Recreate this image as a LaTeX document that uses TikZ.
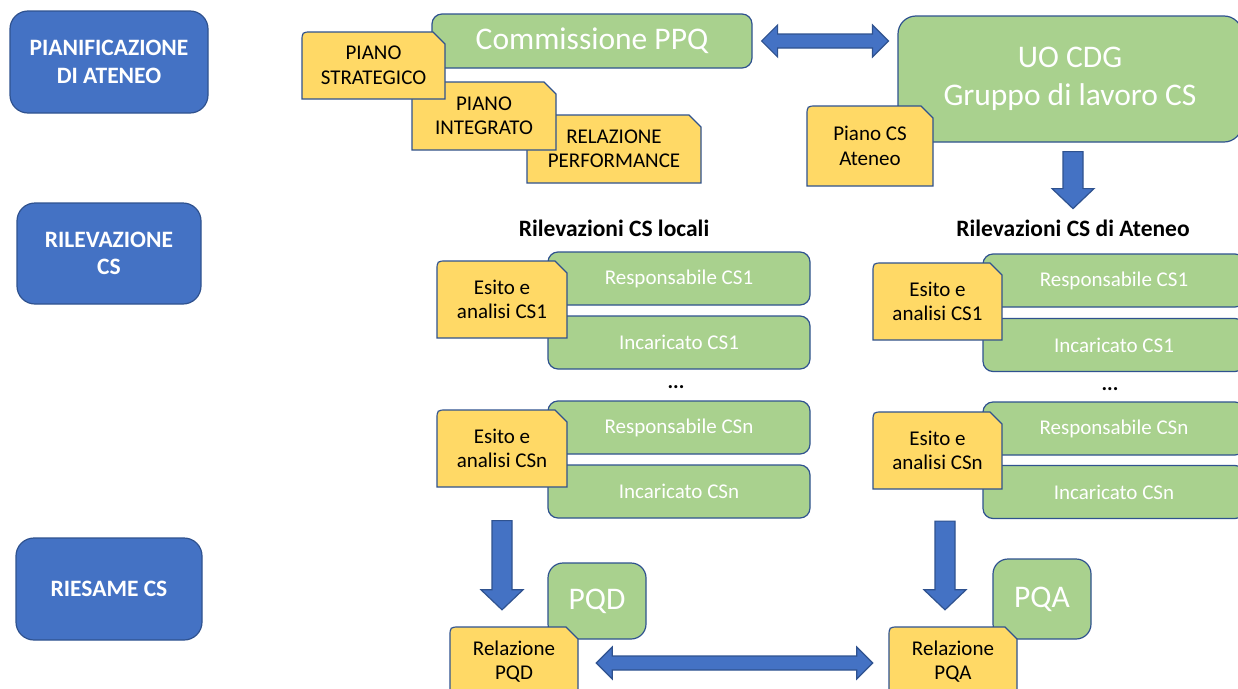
\documentclass[tikz,border=0pt]{standalone}
\usepackage{fontspec}
\setmainfont{Carlito}
\usetikzlibrary{calc}

\definecolor{phaseblue}{HTML}{4472C4}
\definecolor{edgeblue}{HTML}{2F528F}
\definecolor{actorgreen}{HTML}{A9D18E}
\definecolor{docyellow}{HTML}{FFD966}

\tikzset{
  phase/.style={draw=edgeblue, fill=phaseblue, line width=1.2pt, rounded corners=18pt, text=white, align=center, inner sep=0pt, font=\fontsize{23.5}{27.5}\selectfont\bfseries},
  actor/.style={draw=edgeblue, fill=actorgreen, line width=1.2pt, rounded corners=10pt, text=white, align=center, inner sep=0pt, font=\fontsize{21}{25}\selectfont},
  bigactor/.style={actor, font=\fontsize{31.5}{38}\selectfont},
  docshape/.style={draw=edgeblue, fill=docyellow, line width=1.2pt},
  doctext/.style={align=center, inner sep=0pt, font=\fontsize{21}{24.5}\selectfont},
  header/.style={font=\fontsize{23.5}{28}\selectfont\bfseries},
  dots/.style={font=\fontsize{21}{25}\selectfont\bfseries},
  fatdown/.style={draw=edgeblue, fill=phaseblue, line width=1.2pt,
    to path={let \p1=(\tikztostart), \p2=(\tikztotarget) in
      (\x1-10pt,\y1) -- (\x1+10pt,\y1) -- (\x1+10pt,\y2+20pt) -- (\x1+21pt,\y2+20pt)
      -- (\x1,\y2) -- (\x1-21pt,\y2+20pt) -- (\x1-10pt,\y2+20pt) -- cycle}},
  fatboth/.style={draw=edgeblue, fill=phaseblue, line width=1.2pt,
    to path={let \p1=(\tikztostart), \p2=(\tikztotarget) in
      (\x1,\y1) -- (\x1+16pt,\y1+16pt) -- (\x1+16pt,\y1+7pt) -- (\x2-16pt,\y1+7pt)
      -- (\x2-16pt,\y1+16pt) -- (\x2,\y1) -- (\x2-16pt,\y1-16pt) -- (\x2-16pt,\y1-7pt)
      -- (\x1+16pt,\y1-7pt) -- (\x1+16pt,\y1-16pt) -- cycle}}
}

% document sheet: round top left, cut top right
\newcommand{\docnode}[6]{%
  \filldraw[docshape] (#2,#5) -- (#2,#3+10) .. controls (#2,#3) .. (#2+10,#3)
    -- (#4-12,#3) -- (#4,#3+12) -- (#4,#5) -- cycle;
  \node[doctext, minimum width={(#4-#2)*1pt}, minimum height={(#5-#3)*1pt}]
    (#1) at ({(#2+#4)/2},{(#3+#5)/2}) {#6};
}

\begin{document}
\begin{tikzpicture}[x=1pt,y=-1pt]
\useasboundingbox (0,0) rectangle (1238,688);
\clip (0,0) rectangle (1238,688);
\fill[white] (0,0) rectangle (1238,688);

% phases
\node[phase, minimum width=198pt, minimum height=102pt] (plan) at (109,62) {PIANIFICAZIONE\\DI ATENEO};
\node[phase, minimum width=184pt, minimum height=101pt] (rilev) at (109,253.5) {RILEVAZIONE\\CS};
\node[phase, minimum width=186pt, minimum height=102pt] (riesame) at (109,589) {RIESAME CS};

% planning
\node[bigactor, minimum width=320pt, minimum height=54pt] (ppq) at (592,41) {Commissione PPQ};
\docnode{perf}{527}{115}{701}{183}{RELAZIONE\\PERFORMANCE}
\docnode{integ}{412}{82}{556}{150}{PIANO\\INTEGRATO}
\docnode{strat}{302}{32}{445}{99}{PIANO\\STRATEGICO}
\node[bigactor, rounded corners=18pt, minimum width=344pt, minimum height=126pt] (cdg) at (1070,79) {UO CDG\\Gruppo di lavoro CS};
\docnode{pianocs}{807}{106}{933}{186}{Piano CS\\Ateneo}
\draw[fatboth] ($(ppq.east)+(9,0)$) to ($(ppq.east -| cdg.west)+(-9,0)$);

% surveys
\node[header] (hdloc) at (614,228) {Rilevazioni CS locali};
\node[header] (hdate) at (1073,228) {Rilevazioni CS di Ateneo};
\draw[fatdown] ($(cdg.south -| hdate.north)+(0,9)$) to ($(cdg.south -| hdate.north)+(0,66)$);

\node[actor, minimum width=262pt, minimum height=53pt] (resp1) at (679,278.5) {Responsabile CS1};
\node[actor, minimum width=262pt, minimum height=53pt] (inc1) at (679,342.5) {Incaricato CS1};
\node[actor, minimum width=262pt, minimum height=53pt] (respn) at (679,427.5) {Responsabile CSn};
\node[actor, minimum width=262pt, minimum height=53pt] (incn) at (679,491.5) {Incaricato CSn};
\docnode{es1}{437}{261}{567}{338}{Esito e\\analisi CS1}
\docnode{esn}{437}{410}{567}{487}{Esito e\\analisi CSn}
\node[dots] (dotsloc) at (676,387) {...};

\node[actor, minimum width=262pt, minimum height=53pt] (rresp1) at (1114,280.5) {Responsabile CS1};
\node[actor, minimum width=262pt, minimum height=53pt] (rinc1) at (1114,345) {Incaricato CS1};
\node[actor, minimum width=262pt, minimum height=53pt] (rrespn) at (1114,428.5) {Responsabile CSn};
\node[actor, minimum width=262pt, minimum height=53pt] (rincn) at (1114,492) {Incaricato CSn};
\docnode{res1}{873}{263}{1002}{340}{Esito e\\analisi CS1}
\docnode{resn}{873}{412}{1002}{489}{Esito e\\analisi CSn}
\node[dots] (dotsate) at (1110,389) {...};

% review
\node[bigactor, rounded corners=15pt, minimum width=98pt, minimum height=76pt] (pqd) at (597,601) {PQD};
\docnode{relpqd}{450}{627}{578}{696}{Relazione\\PQD}
\node[bigactor, rounded corners=15pt, minimum width=98pt, minimum height=80pt] (pqa) at (1042,599) {PQA};
\docnode{relpqa}{889}{627}{1017}{696}{Relazione\\PQA}

\draw[fatdown] ($(esn.south |- incn.south)+(0,2)$) to ($(esn.south |- relpqd.north)+(0,-17)$);
\draw[fatdown] ($(rincn.south -| relpqa.north)+(-8,2)$) to ($(relpqa.north)+(-8,-17)$);
\draw[fatboth] ($(relpqd.east)+(18,1.5)$) to ($(relpqa.west)+(-16,1.5)$);
\end{tikzpicture}
\end{document}
